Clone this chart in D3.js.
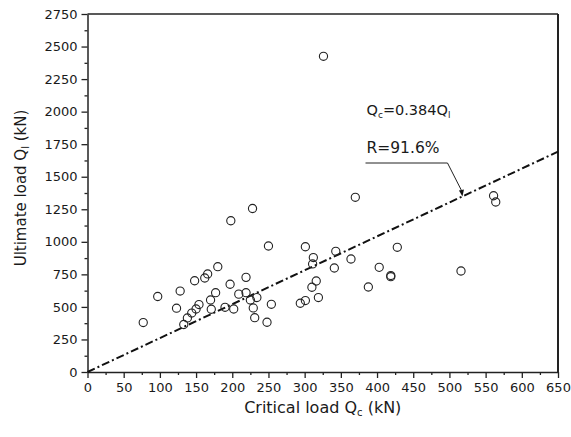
<!DOCTYPE html>
<html>
<head>
<meta charset="utf-8">
<script src="https://cdn.jsdelivr.net/npm/d3@7"></script>
<style>
  body { margin: 0; background: #fff; }
  text { font-family: "DejaVu Sans", "Liberation Sans", Arial, sans-serif; fill: #1a1a1a; }
</style>
</head>
<body>
<div id="chart"></div>
<script>
// data
const criticalLoad = [77, 97, 123, 128, 133, 138, 144, 150, 154, 148, 162, 166, 180, 170, 171, 177,
    190, 202, 197, 198, 228, 209, 219, 219, 225, 234, 229, 231, 248, 254, 250, 294, 301, 301,
    312, 311, 316, 310, 319, 326, 343, 341, 364, 370, 388, 403, 419, 419, 428, 516, 561, 564];
const ultimateLoad = [380, 580, 490, 622, 365, 415, 453, 484, 518, 701, 722, 753, 809, 553, 482, 609,
    497, 484, 674, 1162, 1256, 598, 727, 609, 553, 572, 492, 417, 382, 520, 968, 528, 549, 962,
    879, 830, 699, 651, 572, 2425, 927, 799, 868, 1342, 653, 804, 732, 741, 958, 776, 1354, 1306];

const xTicks = d3.range(0, 651, 50);
const yTicks = d3.range(0, 2751, 250);
const fitSlope = 1 / 0.384;   // Qc = 0.384 Ql

const width = 571, height = 437;
const margin = {top: 14, right: 13, bottom: 65, left: 87.5};
const w = width - margin.left - margin.right;
const h = height - margin.top - margin.bottom;

const svg = d3.select("#chart").append("svg")
    .attr("width", width)
    .attr("height", height);

const g = svg.append("g")
    .attr("transform", `translate(${margin.left},${margin.top})`);

const x = d3.scaleLinear().domain([0, 650]).range([0, w]);
const y = d3.scaleLinear().domain([0, 2750]).range([h, 0]);

// minor ticks first
g.append("g")
    .attr("transform", `translate(0,${h})`)
    .call(d3.axisBottom(x).tickValues(d3.range(25, 650, 50)).tickSize(3).tickFormat(""))
    .call(a => a.select(".domain").remove());
g.append("g")
    .call(d3.axisLeft(y).tickValues(d3.range(125, 2750, 250)).tickSize(3).tickFormat(""))
    .call(a => a.select(".domain").remove());

// major ticks
const xAxis = g.append("g")
    .attr("transform", `translate(0,${h})`)
    .call(d3.axisBottom(x).tickValues(xTicks).tickFormat(d3.format("d"))
        .tickSize(6).tickSizeOuter(0).tickPadding(5));
const yAxis = g.append("g")
    .call(d3.axisLeft(y).tickValues(yTicks).tickFormat(d3.format("d"))
        .tickSize(6).tickSizeOuter(0).tickPadding(4));

[xAxis, yAxis].forEach(a => {
    a.selectAll("text").style("font-size", "13px").attr("fill", "#1a1a1a");
});
g.selectAll(".tick line").attr("stroke", "#222").attr("stroke-width", 1.3);
g.selectAll(".domain").attr("stroke", "#222").attr("stroke-width", 1.5);

// frame top/right
g.append("line").attr("x1", 0).attr("x2", w).attr("y1", 0).attr("y2", 0)
    .attr("stroke", "#222").attr("stroke-width", 1.5);
g.append("line").attr("x1", w).attr("x2", w).attr("y1", 0).attr("y2", h)
    .attr("stroke", "#222").attr("stroke-width", 2);

// fitted line
g.append("line")
    .attr("x1", x(0)).attr("y1", y(0))
    .attr("x2", x(650)).attr("y2", y(650 * fitSlope))
    .attr("stroke", "#111")
    .attr("stroke-width", 2)
    .attr("stroke-dasharray", "8,3,2,3");

// points
g.append("g")
    .selectAll("circle")
    .data(criticalLoad)
    .enter()
    .append("circle")
    .attr("cx", d => x(d))
    .attr("cy", (d, i) => y(ultimateLoad[i]))
    .attr("r", 4.1)
    .attr("fill", "none")
    .attr("stroke", "#222")
    .attr("stroke-width", 1.1);

// annotation
const note = g.append("g");
const eq = note.append("text").attr("x", 279).attr("y", 101).style("font-size", "14.5px");
eq.append("tspan").text("Q");
eq.append("tspan").attr("dy", 3).style("font-size", "9px").text("c");
eq.append("tspan").attr("dy", -3).text("=0.384Q");
eq.append("tspan").attr("dy", 3).style("font-size", "9px").text("l");
note.append("text").attr("x", 279).attr("y", 139).style("font-size", "15.5px").text("R=91.6%");

const tipX = x(518), tipY = y(518 * fitSlope);
note.append("path")
    .attr("d", `M278,149 H360 L${tipX - 1},${tipY - 6}`)
    .attr("fill", "none").attr("stroke", "#222").attr("stroke-width", 1);
note.append("path")
    .attr("d", `M${tipX},${tipY} l-3.5,-6 l5,-1 z`)
    .attr("fill", "#111");

// axis titles
const xt = svg.append("text")
    .attr("x", margin.left + w / 2).attr("y", 413)
    .attr("text-anchor", "middle").style("font-size", "16px");
xt.append("tspan").text("Critical load Q");
xt.append("tspan").attr("dy", 3).style("font-size", "10px").text("c");
xt.append("tspan").attr("dy", -3).text(" (kN)");

const yt = svg.append("text")
    .attr("transform", `translate(26,${margin.top + h / 2 - 5}) rotate(-90)`)
    .attr("text-anchor", "middle").style("font-size", "15px");
yt.append("tspan").text("Ultimate load Q");
yt.append("tspan").attr("dy", 3).style("font-size", "10px").text("l");
yt.append("tspan").attr("dy", -3).text(" (kN)");
</script>
</body>
</html>
